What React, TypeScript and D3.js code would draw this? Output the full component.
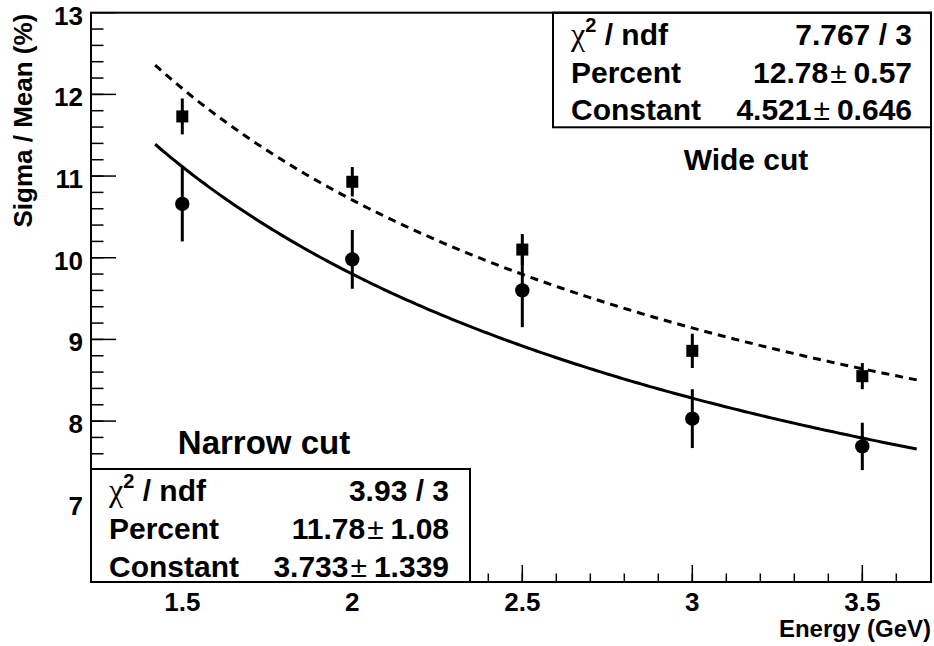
import React from "react";
import * as d3 from "d3";

// ---- data ----
const energies = [1.5, 2.0, 2.5, 3.0, 3.5];
const wideValues = [11.73, 10.93, 10.10, 8.86, 8.55];
const wideErrors = [0.22, 0.18, 0.19, 0.21, 0.16];
const narrowValues = [10.66, 9.98, 9.60, 8.03, 7.69];
const narrowErrors = [0.46, 0.36, 0.45, 0.36, 0.29];

// fit curves: sigma/E = sqrt(P^2/E + C^2)  (parameters)
const wideFit = { P: 13.66, C: 4.62, from: 1.42, to: 3.66 };
const narrowFit = { P: 12.84, C: 3.69, from: 1.42, to: 3.66 };

const xMajorTicks = [1.5, 2, 2.5, 3, 3.5];
const xTickLabels = ["1.5", "2", "2.5", "3", "3.5"];
const yMajorTicks = [7, 8, 9, 10, 11, 12, 13];
const yTickLabels = ["7", "8", "9", "10", "11", "12", "13"];

const wideStatNames = ["Percent", "Constant"];
const wideStatValues = ["12.78", "4.521"];
const wideStatErrors = ["0.57", "0.646"];
const wideChi2 = "7.767 / 3";
const narrowStatNames = ["Percent", "Constant"];
const narrowStatValues = ["11.78", "3.733"];
const narrowStatErrors = ["1.08", "1.339"];
const narrowChi2 = "3.93 / 3";

const xTitle = "Energy (GeV)";
const yTitle = "Sigma / Mean (%)";

// ---- layout ----
const W = 934, H = 646;
const L = 91, R = 931, T = 12.7, B = 582;
const FONT = "'Liberation Sans', Arial, Helvetica, sans-serif";
const STAT_FS = 30;

const x = d3.scaleLinear().domain([1.2315, 3.702]).range([L, R]);
const y = d3.scaleLinear().domain([6.03, 13]).range([B, T]);

function fitPath(f: { P: number; C: number; from: number; to: number }) {
  const n = 200;
  const pts: [number, number][] = d3.range(n + 1).map((i) => {
    const e = f.from + ((f.to - f.from) * i) / n;
    return [e, Math.sqrt((f.P * f.P) / e + f.C * f.C)];
  });
  return d3.line<[number, number]>().x((d) => x(d[0])).y((d) => y(d[1]))(pts) || "";
}

function Chi({ xx, yy, value, right }: { xx: number; yy: number; value: string; right: number }) {
  return (
    <g>
      <text x={xx} y={yy} fontFamily={FONT} fontSize={STAT_FS} fontWeight="bold">
        <tspan fontFamily="'Liberation Serif', 'DejaVu Serif', serif" fontWeight="normal" fontSize={32}>χ</tspan>
        <tspan fontSize={20} dy={-13}>2</tspan>
        <tspan dy={13}>{" / ndf"}</tspan>
      </text>
      <text x={right} y={yy} fontFamily={FONT} fontSize={STAT_FS} fontWeight="bold" textAnchor="end">
        {value}
      </text>
    </g>
  );
}

function StatBox({
  bx, by, bw, bh, chi2, names, values, errors, padL, padR,
}: {
  bx: number; by: number; bw: number; bh: number; chi2: string;
  names: string[]; values: string[]; errors: string[]; padL: number; padR: number;
}) {
  const rowBase = [by + 32, by + 70, by + 107.5];
  return (
    <g>
      <rect x={bx} y={by} width={bw} height={bh} fill="white" stroke="black" strokeWidth={2} />
      <Chi xx={bx + padL} yy={rowBase[0]} value={chi2} right={bx + bw - padR} />
      {names.map((n, i) => (
        <g key={n}>
          <text x={bx + padL} y={rowBase[i + 1]} fontFamily={FONT} fontSize={STAT_FS} fontWeight="bold">{n}</text>
          <text x={bx + bw - padR} y={rowBase[i + 1]} fontFamily={FONT} fontSize={STAT_FS} fontWeight="bold" textAnchor="end">
            <tspan>{values[i]}</tspan>
            <tspan fontWeight="normal" dx={2}>±</tspan>
            <tspan dx={7}>{errors[i]}</tspan>
          </text>
        </g>
      ))}
    </g>
  );
}

export default function App() {
  const xMinor = d3.range(13, 38).map((v) => v / 10).filter((v) => x(v) > L + 1 && x(v) < R - 1);
  const yMinor = d3.range(31, 66).map((v) => v / 5).filter((v) => y(v) > T + 1 && y(v) < B - 1);
  const sq = 12;
  return (
    <svg width={W} height={H} style={{ position: "absolute", left: 0, top: 0, background: "white" }}>
      <rect x={0} y={0} width={W} height={H} fill="white" />
      {/* y ticks */}
      {yMinor.map((v) => (
        <line key={"ym" + v} x1={L} x2={L + 12.5} y1={y(v)} y2={y(v)} stroke="black" strokeWidth={1.5} />
      ))}
      {yMajorTicks.map((v) => (
        <line key={"yM" + v} x1={L} x2={L + 25} y1={y(v)} y2={y(v)} stroke="black" strokeWidth={1.5} />
      ))}
      {/* x ticks */}
      {xMinor.map((v) => (
        <line key={"xm" + v} x1={x(v)} x2={x(v)} y1={B} y2={B - 8.5} stroke="black" strokeWidth={1.5} />
      ))}
      {xMajorTicks.map((v) => (
        <line key={"xM" + v} x1={x(v)} x2={x(v)} y1={B} y2={B - 17} stroke="black" strokeWidth={1.5} />
      ))}
      {/* tick labels */}
      {yMajorTicks.map((v, i) => (
        <text key={"yl" + v} x={L - 8} y={y(v) + 12} textAnchor="end" fontFamily={FONT} fontSize={26} fontWeight="bold">
          {yTickLabels[i]}
        </text>
      ))}
      {xMajorTicks.map((v, i) => (
        <text key={"xl" + v} x={x(v)} y={B + 29} textAnchor="middle" fontFamily={FONT} fontSize={26} fontWeight="bold">
          {xTickLabels[i]}
        </text>
      ))}
      {/* axis titles */}
      <text x={R} y={637} textAnchor="end" fontFamily={FONT} fontSize={24} fontWeight="bold">{xTitle}</text>
      <text transform={`translate(32,${T + 1}) rotate(-90)`} textAnchor="end" fontFamily={FONT} fontSize={26} fontWeight="bold">
        {yTitle}
      </text>

      {/* fit curves */}
      <path d={fitPath(wideFit)} fill="none" stroke="black" strokeWidth={3} strokeDasharray="8 6" />
      <path d={fitPath(narrowFit)} fill="none" stroke="black" strokeWidth={3} />

      {/* error bars */}
      {energies.map((e, i) => (
        <line key={"we" + i} x1={x(e)} x2={x(e)} y1={y(wideValues[i] + wideErrors[i])} y2={y(wideValues[i] - wideErrors[i])} stroke="black" strokeWidth={3} />
      ))}
      {energies.map((e, i) => (
        <line key={"ne" + i} x1={x(e)} x2={x(e)} y1={y(narrowValues[i] + narrowErrors[i])} y2={y(narrowValues[i] - narrowErrors[i])} stroke="black" strokeWidth={3} />
      ))}
      {/* markers */}
      {energies.map((e, i) => (
        <rect key={"wm" + i} x={x(e) - sq / 2} y={y(wideValues[i]) - sq / 2} width={sq} height={sq} fill="black" />
      ))}
      {energies.map((e, i) => (
        <circle key={"nm" + i} cx={x(e)} cy={y(narrowValues[i])} r={7.2} fill="black" />
      ))}

      {/* labels */}
      <text x={746} y={170} textAnchor="middle" fontFamily={FONT} fontSize={30} fontWeight="bold">Wide cut</text>
      <text x={264} y={454} textAnchor="middle" fontFamily={FONT} fontSize={33} fontWeight="bold">Narrow cut</text>

      {/* stat boxes */}
      <StatBox bx={553} by={T} bw={R - 553} bh={127.3 - T} chi2={wideChi2} names={wideStatNames}
        values={wideStatValues} errors={wideStatErrors} padL={18} padR={19} />
      <StatBox bx={L} by={469} bw={470 - L} bh={B - 469} chi2={narrowChi2} names={narrowStatNames}
        values={narrowStatValues} errors={narrowStatErrors} padL={18} padR={21} />

      {/* frame */}
      <rect x={L} y={T} width={R - L} height={B - T} fill="none" stroke="black" strokeWidth={2} />
    </svg>
  );
}
